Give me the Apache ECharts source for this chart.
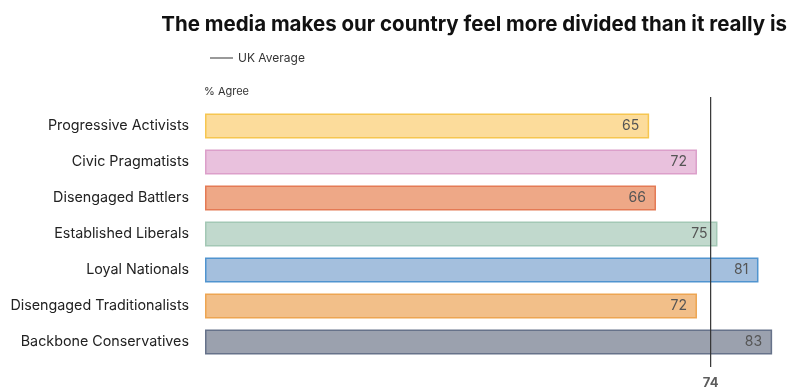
<!DOCTYPE html>
<html><head><meta charset="utf-8">
<script src="https://cdn.jsdelivr.net/npm/echarts@6/dist/echarts.min.js"></script>
<style>html,body{margin:0;padding:0;background:#fff}#c{width:788px;height:390px}</style>
</head><body><div id="c"></div>
<script>
const categories = ["Progressive Activists","Civic Pragmatists","Disengaged Battlers","Established Liberals","Loyal Nationals","Disengaged Traditionalists","Backbone Conservatives"];
const values = [65,72,66,75,81,72,83];
const fillColors = ["#fcdc9b","#e9c1dd","#eea887","#c1d9cd","#a4bfdd","#f2bf89","#9ba1ae"];
const borderColors = ["#f6c650","#dc9fca","#e47a55","#a3c8b5","#5094cf","#eda552","#66728a"];
const ukAverage = 74;
const xMax = 85;

const chart = echarts.init(document.getElementById('c'));
const font = 'Inter, "Noto Sans", sans-serif';
chart.setOption({
  animation:false,
  title:{text:"The media makes our country feel more divided than it really is",right:-4,top:9,
    textStyle:{fontFamily:font,fontSize:20.5,fontWeight:'bold',color:'#111'}},
  legend:{data:["UK Average"],left:205,top:47,itemWidth:23,itemHeight:1,icon:'rect',
    textStyle:{fontFamily:font,fontSize:12,color:'#333'},itemGap:6},
  graphic:[{type:'text',left:204,top:86,style:{text:'% Agree',font:'11px '+font,fill:'#333'}}],
  grid:[{left:205,width:xMax*6.833,top:108,height:252},{left:205,width:xMax*6.833,top:97,height:270}],
  xAxis:[{type:'value',min:0,max:xMax,gridIndex:0,show:false},
         {type:'value',min:0,max:xMax,gridIndex:1,show:false}],
  yAxis:[{type:'category',data:categories,inverse:true,gridIndex:0,
          axisLine:{show:false},axisTick:{show:false},
          axisLabel:{margin:16,fontFamily:font,fontSize:14.3,color:'#222'}},
         {type:'value',min:0,max:1,gridIndex:1,show:false}],
  series:[{type:'bar',xAxisIndex:0,yAxisIndex:0,barWidth:25,
    data:values.map((v,i)=>({value:v,itemStyle:{color:fillColors[i],borderColor:borderColors[i],borderWidth:1.5}})),
    label:{show:true,position:'insideRight',distance:10,fontFamily:font,fontSize:14,color:'#555'}},
   {type:'line',name:'UK Average',xAxisIndex:1,yAxisIndex:1,z:5,symbol:'none',
    lineStyle:{color:'#333',width:1.2},itemStyle:{color:'#333'},
    data:[[ukAverage,0],{value:[ukAverage,1]}],
    label:{show:false}},
   {type:'scatter',xAxisIndex:1,yAxisIndex:1,symbolSize:0,silent:true,
    data:[{value:[ukAverage,0],label:{show:true,position:'bottom',distance:10,formatter:'{@[0]}',
      fontFamily:font,fontSize:13,fontWeight:'bold',color:'#333'}}]}]
});
</script></body></html>
